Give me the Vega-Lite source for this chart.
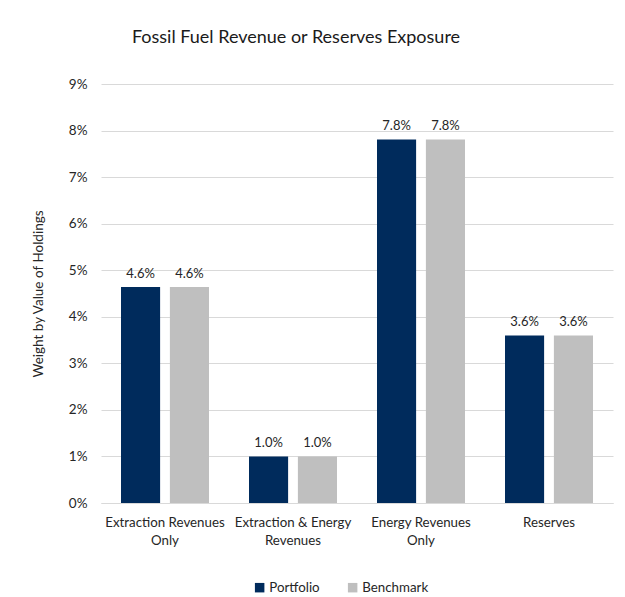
{
  "$schema": "https://vega.github.io/schema/vega-lite/v6.json",
  "width": 512,
  "height": 419,
  "autosize": {"type": "none"},
  "padding": {"left": 101, "top": 84, "right": 12, "bottom": 94},
  "background": "white",
  "title": {
    "text": "Fossil Fuel Revenue or Reserves Exposure",
    "font": "Lato",
    "fontSize": 18,
    "fontWeight": "normal",
    "color": "#1a1a1a",
    "anchor": "middle",
    "dx": -61,
    "offset": 30
  },
  "data": {
    "values": [
      {"category": "Extraction Revenues|Only", "series": "Portfolio", "value": 0.0464},
      {"category": "Extraction Revenues|Only", "series": "Benchmark", "value": 0.0464},
      {"category": "Extraction & Energy|Revenues", "series": "Portfolio", "value": 0.0100},
      {"category": "Extraction & Energy|Revenues", "series": "Benchmark", "value": 0.0100},
      {"category": "Energy Revenues|Only", "series": "Portfolio", "value": 0.0781},
      {"category": "Energy Revenues|Only", "series": "Benchmark", "value": 0.0781},
      {"category": "Reserves", "series": "Portfolio", "value": 0.0360},
      {"category": "Reserves", "series": "Benchmark", "value": 0.0360}
    ]
  },
  "encoding": {
    "x": {
      "field": "category",
      "type": "nominal",
      "sort": null,
      "scale": {"paddingInner": 0.3125, "paddingOuter": 0.15625},
      "axis": {
        "title": null,
        "labelAngle": 0,
        "labelExpr": "split(datum.label, '|')",
        "labelFont": "Lato",
        "labelFontSize": 13.3,
        "labelColor": "#262626",
        "labelPadding": 12,
        "labelLineHeight": 18,
        "labelLimit": 200,
        "ticks": false,
        "domainColor": "#d9d9d9",
        "domainWidth": 1,
        "grid": false
      }
    },
    "xOffset": {
      "field": "series",
      "type": "nominal",
      "sort": ["Portfolio", "Benchmark"],
      "scale": {"paddingInner": 0.2, "paddingOuter": 0}
    },
    "y": {
      "field": "value",
      "type": "quantitative",
      "scale": {"domain": [0, 0.09], "nice": false},
      "axis": {
        "title": "Weight by Value of Holdings",
        "titleFont": "Lato",
        "titleFontSize": 13.5,
        "titleFontWeight": "normal",
        "titleColor": "#262626",
        "titlePadding": 23,
        "format": ".0%",
        "values": [0, 0.01, 0.02, 0.03, 0.04, 0.05, 0.06, 0.07, 0.08, 0.09],
        "labelFont": "Lato",
        "labelFontSize": 13.5,
        "labelColor": "#262626",
        "labelPadding": 14,
        "ticks": false,
        "domain": false,
        "gridColor": "#d9d9d9",
        "gridWidth": 1
      }
    }
  },
  "layer": [
    {
      "mark": {"type": "bar"},
      "encoding": {
        "color": {
          "field": "series",
          "type": "nominal",
          "sort": ["Portfolio", "Benchmark"],
          "scale": {"domain": ["Portfolio", "Benchmark"], "range": ["#002B5C", "#BFBFBF"]},
          "legend": {
            "title": null,
            "orient": "none",
            "direction": "horizontal",
            "legendX": 152,
            "legendY": 497,
            "symbolType": "square",
            "symbolSize": 90,
            "symbolStrokeWidth": 0,
            "labelFont": "Lato",
            "labelFontSize": 13.3,
            "labelColor": "#262626",
            "labelOffset": 3,
            "columnPadding": 26
          }
        }
      }
    },
    {
      "mark": {"type": "text", "baseline": "bottom", "dy": -6, "font": "Lato", "fontSize": 13, "color": "#262626"},
      "encoding": {
        "text": {"field": "value", "type": "quantitative", "format": ".1%"}
      }
    }
  ],
  "config": {
    "view": {"stroke": null}
  }
}
